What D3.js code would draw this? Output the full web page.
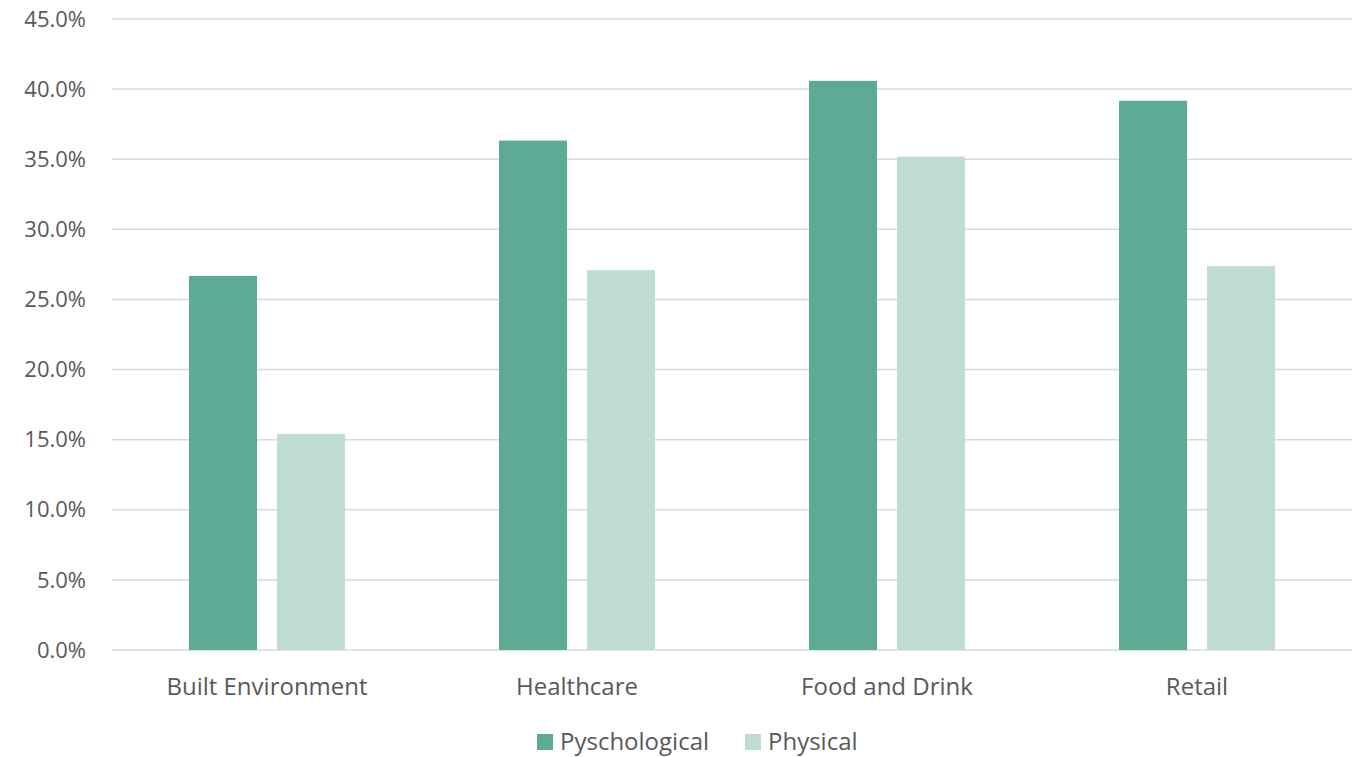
<!DOCTYPE html>
<html lang="en">
<head>
  <meta charset="UTF-8">
  <title>Pyschological vs Physical</title>
  <script src="https://cdn.jsdelivr.net/npm/d3@7/dist/d3.min.js"></script>
  <style>
    body {
      margin: 0;
      background: #ffffff;
      font-family: 'Open Sans', 'Noto Sans', sans-serif;
    }
    svg { display: block; }
    .tick-label, .cat-label, .legend-label {
      fill: #595959;
    }
  </style>
</head>
<body>
  <svg id="chart"></svg>
  <script>
    const categories = ["Built Environment", "Healthcare", "Food and Drink", "Retail"];
    const seriesNames = ["Pyschological", "Physical"];
    const pyschological = [0.2668, 0.3633, 0.4059, 0.3917];
    const physical = [0.1541, 0.2709, 0.3519, 0.2737];
    const yTicks = [0, 0.05, 0.10, 0.15, 0.20, 0.25, 0.30, 0.35, 0.40, 0.45];
    const colors = ["#5dab94", "#c0ddd5"];

    const width = 1361;
    const height = 757;
    const margin = { top: 19, right: 9, bottom: 107, left: 112 };

    const svg = d3.select("#chart")
      .attr("width", width)
      .attr("height", height);

    const x = d3.scaleBand()
      .domain(categories)
      .range([margin.left, width - margin.right])
      .paddingInner(0)
      .paddingOuter(0);

    // two bars per category, 68px wide with a 20px gap
    const inner = d3.scaleBand()
      .domain(seriesNames)
      .range([0, x.bandwidth()])
      .paddingInner(0.227)
      .paddingOuter(0.875);

    const y = d3.scaleLinear()
      .domain([0, 0.45])
      .range([height - margin.bottom, margin.top]);

    // gridlines
    svg.append("g")
      .selectAll("line")
      .data(yTicks)
      .join("line")
      .attr("x1", margin.left)
      .attr("x2", width - margin.right)
      .attr("y1", d => y(d))
      .attr("y2", d => y(d))
      .attr("stroke", "#d9d9d9")
      .attr("stroke-width", 1.5);

    // y tick labels
    svg.append("g")
      .selectAll("text")
      .data(yTicks)
      .join("text")
      .attr("class", "tick-label")
      .attr("x", 86)
      .attr("y", d => y(d))
      .attr("dy", "0.35em")
      .attr("text-anchor", "end")
      .style("font-size", "22px")
      .text(d => d3.format(".1%")(d));

    const rows = categories.map((c, i) => ({
      cat: c,
      values: [pyschological[i], physical[i]]
    }));

    const groups = svg.append("g")
      .selectAll("g")
      .data(rows)
      .join("g")
      .attr("transform", d => `translate(${x(d.cat)},0)`);

    groups.selectAll("rect")
      .data(d => d.values.map((v, j) => ({ name: seriesNames[j], value: v, idx: j })))
      .join("rect")
      .attr("x", d => inner(d.name))
      .attr("width", inner.bandwidth())
      .attr("y", d => y(d.value))
      .attr("height", d => y(0) - y(d.value))
      .attr("fill", d => colors[d.idx]);

    // category labels
    svg.append("g")
      .selectAll("text")
      .data(categories)
      .join("text")
      .attr("class", "cat-label")
      .attr("x", d => x(d) + x.bandwidth() / 2)
      .attr("y", 687)
      .attr("dy", "0.35em")
      .attr("text-anchor", "middle")
      .style("font-size", "24px")
      .text(d => d);

    // legend
    const legendX = [537, 745];
    const legend = svg.append("g")
      .selectAll("g")
      .data(seriesNames)
      .join("g")
      .attr("transform", (d, i) => `translate(${legendX[i]},734)`);

    legend.append("rect")
      .attr("width", 16)
      .attr("height", 16)
      .attr("fill", (d, i) => colors[i]);

    legend.append("text")
      .attr("class", "legend-label")
      .attr("x", 23)
      .attr("y", 8)
      .attr("dy", "0.35em")
      .style("font-size", "24px")
      .text(d => d);
  </script>
</body>
</html>
